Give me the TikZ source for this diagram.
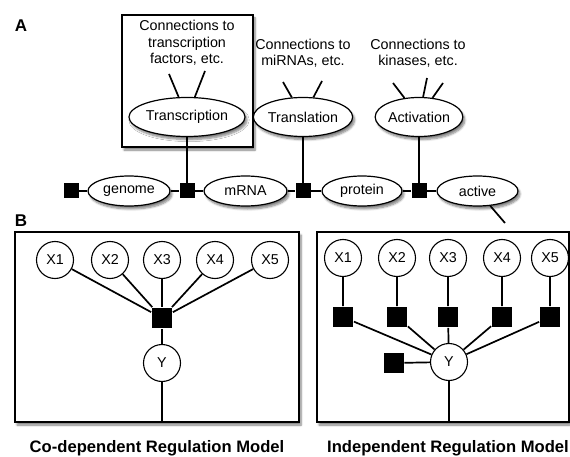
\documentclass[tikz,border=0pt]{standalone}
\usepackage{fontspec}
\setmainfont{Liberation Sans}
\usetikzlibrary{shapes.geometric, shadows.blur}

\tikzset{
    softshadow/.style={blur shadow={shadow xshift=2pt, shadow yshift=-3pt, shadow blur steps=6, shadow opacity=50}},
    plate/.style={draw, line width=1.2pt, fill=white, softshadow},
    var/.style={ellipse, draw, line width=1.2pt, fill=white, inner sep=0pt, minimum height=30pt, softshadow},
    obs/.style={circle, draw, line width=1.1pt, fill=white, inner sep=0pt, minimum size=37pt},
    fac/.style={rectangle, fill=black, inner sep=0pt, minimum size=15pt},
    bigfac/.style={fac, minimum size=20pt},
    conn/.style={align=center, font=\fontsize{14.3}{16.5}\selectfont},
    lbl/.style={font=\fontsize{17}{17}\selectfont\bfseries},
    modelcap/.style={font=\fontsize{16.6}{16.6}\selectfont\bfseries}
}

\begin{document}
\begin{tikzpicture}[x=1pt, y=-1pt, line width=1.7pt, font=\fontsize{14.3}{16.5}\selectfont]
    \useasboundingbox (0,0) rectangle (570,457);
    \node[lbl] (A) at (21,26) {A};
    \node[lbl] (B) at (21,221) {B};
    \draw[plate] (122,15) rectangle (253,147);
    \node[conn] (ctf) at (187,43) {Connections to\\transcription\\factors, etc.};
    \node[conn] (cmi) at (303,53) {Connections to\\miRNAs, etc.};
    \node[conn] (cki) at (418,53) {Connections to\\kinases, etc.};
    \node[var, minimum width=97pt, minimum height=39pt] (tr) at (187,117) {Transcription};
    \node[var, minimum width=90pt, minimum height=39pt] (tl) at (303,117) {Translation};
    \node[var, minimum width=85pt, minimum height=39pt] (ac) at (419,117) {Activation};
    \node[fac] (f0) at (71,191) {};
    \node[fac] (f1) at (187,191) {};
    \node[fac] (f2) at (303,191) {};
    \node[fac] (f3) at (419,191) {};
    \node[var, minimum width=82pt] (genome) at (129,191) {genome};
    \node[var, minimum width=83pt] (mrna) at (245.5,191) {mRNA};
    \node[var, minimum width=80pt] (protein) at (362,191) {protein};
    \node[var, minimum width=81pt] (active) at (477.5,191) {active};
    \coordinate (t1) at (169,74);
    \coordinate (t2) at (205,71);
    \coordinate (m1) at (283,82);
    \coordinate (m2) at (322,81);
    \coordinate (k1) at (393,83);
    \coordinate (k2) at (427,78);
    \coordinate (k3) at (443,83);
    \coordinate (a1) at (505,223);
    \foreach \c in {t1,t2} \draw (\c) -- (tr);
    \foreach \c in {m1,m2} \draw (\c) -- (tl);
    \foreach \c in {k1,k2,k3} \draw (\c) -- (ac);
    \draw (active) -- (a1);
    \draw (f0) -- (genome) -- (f1) -- (mrna) -- (f2) -- (protein) -- (f3) -- (active);
    \draw (tr) -- (f1);
    \draw (tl) -- (f2);
    \draw (ac) -- (f3);

    \draw[plate] (15,232) rectangle (299,422);
    \draw[plate] (317,232) rectangle (569,422);
    \foreach \i/\x in {1/55,2/110,3/162,4/215,5/270}
        \node[obs] (lx\i) at (\x,260) {X\i};
    \node[bigfac] (lf) at (162,318) {};
    \node[obs] (ly) at (162,363) {Y};
    \coordinate (lb) at (162,422);
    \foreach \i in {1,...,5} \draw (lx\i) -- (lf);
    \draw (lf) -- (ly) -- (lb);
    \foreach \i/\x in {1/343,2/397,3/448,4/502,5/550} {
        \node[obs] (rx\i) at (\x,258) {X\i};
        \node[bigfac] (rf\i) at (\x,317) {};
    }
    \node[obs] (ry) at (449,362) {Y};
    \node[bigfac] (rf0) at (393.5,363) {};
    \coordinate (rb) at (449,422);
    \foreach \i in {1,...,5} \draw (rx\i) -- (rf\i) -- (ry);
    \draw (rf0) -- (ry) -- (rb);
    \node[modelcap] (lcap) at (157,448) {Co-dependent Regulation Model};
    \node[modelcap] (rcap) at (448,448) {Independent Regulation Model};
\end{tikzpicture}
\end{document}
